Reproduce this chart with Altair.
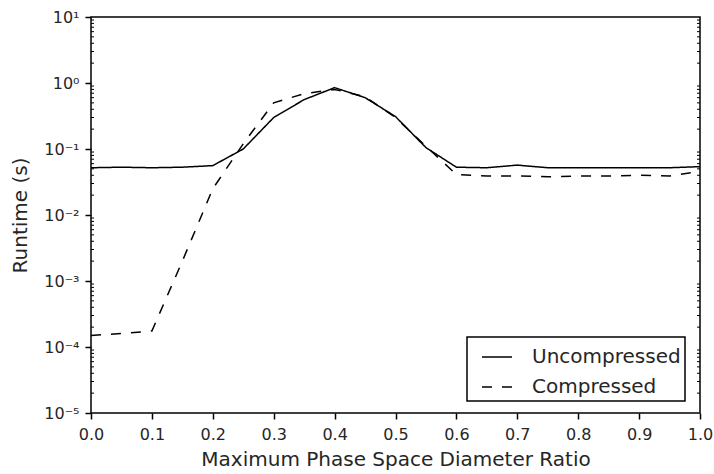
import altair as alt
import pandas as pd

# ---- data ----
ratio = [0.00, 0.05, 0.10, 0.15, 0.20, 0.25, 0.30, 0.35, 0.40, 0.45, 0.50,
         0.55, 0.60, 0.65, 0.70, 0.75, 0.80, 0.85, 0.90, 0.95, 1.00]
uncompressed = [0.052, 0.053, 0.052, 0.053, 0.056, 0.100, 0.300, 0.560, 0.850, 0.600, 0.310,
                0.105, 0.053, 0.052, 0.057, 0.052, 0.052, 0.052, 0.052, 0.052, 0.054]
compressed = [1.5e-4, 1.6e-4, 1.75e-4, 0.0020, 0.025, 0.120, 0.500, 0.690, 0.800, 0.620, 0.300,
              0.110, 0.041, 0.039, 0.039, 0.038, 0.039, 0.039, 0.040, 0.039, 0.046]
series_names = ["Uncompressed", "Compressed"]

x_ticks = [0.0, 0.1, 0.2, 0.3, 0.4, 0.5, 0.6, 0.7, 0.8, 0.9, 1.0]
y_ticks = [1e-5, 1e-4, 1e-3, 1e-2, 1e-1, 1e0, 1e1]
y_tick_labels = ["10⁻⁵", "10⁻⁴", "10⁻³", "10⁻²", "10⁻¹", "10⁰", "10¹"]
minor_mult = [2, 3, 4, 5, 6, 7, 8, 9]
minor_ticks = [m * d for d in y_ticks[:-1] for m in minor_mult]

rows = []
for name, vals in zip(series_names, [uncompressed, compressed]):
    for xv, yv in zip(ratio, vals):
        rows.append({"ratio": xv, "runtime": yv, "series": name})
df = pd.DataFrame(rows)
minor_df = pd.DataFrame({"v": minor_ticks})

W, H = 609, 396
FONT = "DejaVu Sans"
TXT = "#262626"

label_arr = "[" + ",".join("'" + s + "'" for s in y_tick_labels) + "]"
label_expr = label_arr + "[round(log(datum.value)/LN10)+5]"

xscale = alt.Scale(domain=[0, 1], nice=False, zero=False)
yscale = alt.Scale(type="log", domain=[1e-5, 10], nice=False)

y_axis = alt.Axis(title="Runtime (s)", values=y_ticks, labelExpr=label_expr,
                  grid=False, domain=False, tickSize=6, tickWidth=1.5,
                  tickColor="black", labelFontSize=16, labelColor=TXT,
                  labelPadding=6, titleFontSize=20, titleFontWeight="normal",
                  titleColor=TXT, titlePadding=13, labelFont=FONT, titleFont=FONT)

lines = alt.Chart(df).mark_line(color="black", strokeWidth=1.5).encode(
    x=alt.X("ratio:Q", scale=xscale,
            axis=alt.Axis(title="Maximum Phase Space Diameter Ratio", values=x_ticks,
                          format=".1f", grid=False, domain=False, tickSize=6,
                          tickWidth=1.5, tickColor="black", labelFontSize=16,
                          labelColor=TXT, labelPadding=7, titleFontSize=20,
                          titleFontWeight="normal", titleColor=TXT, titlePadding=7,
                          labelFont=FONT, titleFont=FONT, labelFlush=False)),
    y=alt.Y("runtime:Q", scale=yscale, axis=y_axis),
    strokeDash=alt.StrokeDash("series:N",
                              scale=alt.Scale(domain=series_names, range=[[1, 0], [10, 10]]),
                              legend=alt.Legend(title=None, orient="none", legendX=376,
                                                legendY=320, symbolType="stroke",
                                                symbolSize=900, symbolStrokeWidth=1.5,
                                                symbolStrokeColor="black",
                                                symbolOffset=10,
                                                labelFontSize=20, labelFont=FONT,
                                                labelColor=TXT, labelOffset=19,
                                                labelExpr="datum.label + '\u00a0'",
                                                padding=4, rowPadding=4,
                                                strokeColor="black",
                                                fillColor="white")),
    detail="series:N",
)

minor_left = alt.Chart(minor_df).mark_rule(color="black", strokeWidth=1).encode(
    y=alt.Y("v:Q", scale=yscale, axis=y_axis),
    x=alt.value(0), x2=alt.value(3),
)
minor_right = alt.Chart(minor_df).mark_rule(color="black", strokeWidth=1).encode(
    y=alt.Y("v:Q", scale=yscale, axis=y_axis),
    x=alt.value(W - 3), x2=alt.value(W),
)

chart = alt.layer(lines, minor_left, minor_right).properties(
    width=W, height=H,
    autosize=alt.AutoSizeParams(type="none"),
    padding={"left": 91, "top": 17, "right": 14, "bottom": 61},
    background="white",
).configure_view(
    stroke="black", strokeWidth=1.5
).configure_legend(
    strokeWidth=1.5, cornerRadius=0
)

chart.save("out.html", embed_options={"renderer": "svg", "actions": False})
